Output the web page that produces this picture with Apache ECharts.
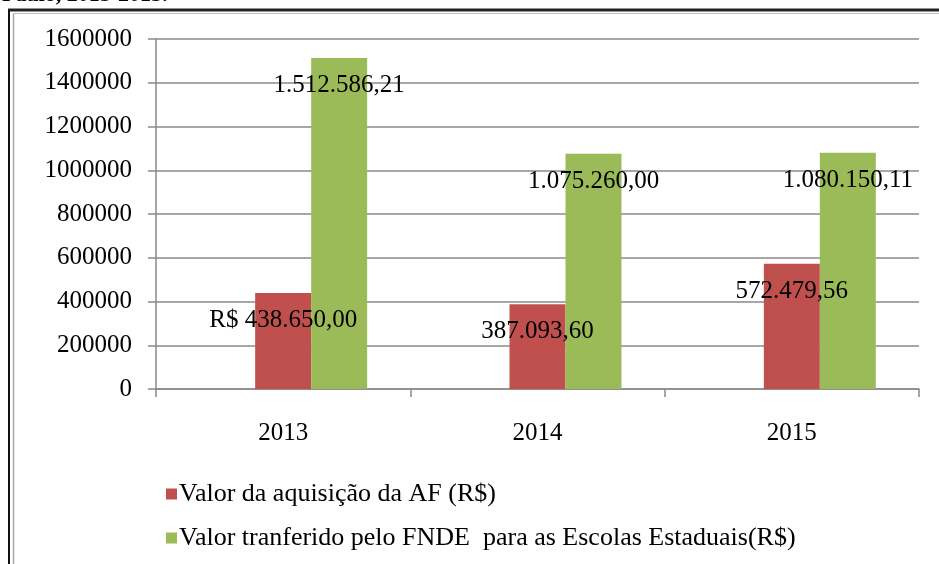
<!DOCTYPE html>
<html>
<head>
<meta charset="utf-8">
<script src="https://cdn.jsdelivr.net/npm/echarts@6/dist/echarts.min.js"></script>
<style>
  html, body { margin: 0; padding: 0; background: #fff; }
  #chart { width: 939px; height: 564px; }
</style>
</head>
<body>
<div id="chart"></div>
<script>
// categorias e valores
const anos = ['2013', '2014', '2015'];
const valorAquisicao = [438650.00, 387093.60, 572479.56];
const valorFnde = [1512586.21, 1075260.00, 1080150.11];
const rotulosAquisicao = ['R$ 438.650,00', '387.093,60', '572.479,56'];
const rotulosFnde = ['1.512.586,21', '1.075.260,00', '1.080.150,11'];
// série vazia que o Excel reserva antes das outras duas
const serieVazia = [null, null, null];

const fonte = 'Liberation Serif';
const cinza = '#8a8a8a';

const chart = echarts.init(document.getElementById('chart'));

const rotulo = (textos) => ({
  show: true,
  position: 'insideTop',
  distance: 15,
  color: '#000',
  fontFamily: fonte,
  fontSize: 25,
  formatter: (p) => textos[p.dataIndex],
});

chart.setOption({
  animation: false,
  textStyle: { fontFamily: fonte },
  grid: { left: 156, right: 20, top: 39, bottom: 175 },
  graphic: [
    { type: 'text', left: 2, top: -16, style: { text: 'Paulo, 2013-2015.', font: 'bold 22px "Liberation Serif"', fill: '#000' } },
    { type: 'line', shape: { x1: 8, y1: 10, x2: 939, y2: 10 }, style: { stroke: '#222', lineWidth: 3 } },
    { type: 'line', shape: { x1: 9, y1: 10, x2: 9, y2: 564 }, style: { stroke: '#111', lineWidth: 2 } },
    { type: 'line', shape: { x1: 13.5, y1: 13.5, x2: 13.5, y2: 564 }, style: { stroke: '#aaa', lineWidth: 1.5 } },
    { type: 'line', shape: { x1: 13.5, y1: 13.5, x2: 939, y2: 13.5 }, style: { stroke: '#bbb', lineWidth: 1 } },
  ],
  legend: {
    orient: 'vertical',
    left: 161,
    top: 476,
    itemWidth: 11,
    itemHeight: 11,
    itemGap: 18,
    icon: 'rect',
    data: ['Valor da aquisição da AF (R$)', 'Valor tranferido pelo FNDE  para as Escolas Estaduais(R$)'],
    textStyle: { fontFamily: fonte, fontSize: 26, color: '#000', padding: [0, 0, 0, -3] },
  },
  xAxis: {
    type: 'category',
    data: anos,
    axisLine: { lineStyle: { color: cinza, width: 1.5 } },
    axisTick: { show: true, length: 8, lineStyle: { color: cinza, width: 1.5 } },
    axisLabel: { color: '#000', fontFamily: fonte, fontSize: 25, margin: 32 },
  },
  yAxis: {
    type: 'value',
    min: 0,
    max: 1600000,
    interval: 200000,
    axisLine: { show: true, lineStyle: { color: cinza, width: 1.5 } },
    axisTick: { show: true, length: 8, lineStyle: { color: cinza, width: 1.5 } },
    axisLabel: { color: '#000', fontFamily: fonte, fontSize: 25, margin: 24, formatter: (v) => String(v) },
    splitLine: { lineStyle: { color: cinza, width: 1.5 } },
  },
  series: [
    { name: 'vazia', type: 'bar', data: serieVazia, barWidth: 56, barGap: '0%' },
    {
      name: 'Valor da aquisição da AF (R$)',
      type: 'bar',
      data: valorAquisicao,
      barWidth: 56,
      barGap: '0%',
      itemStyle: { color: '#C0504D' },
      label: rotulo(rotulosAquisicao),
    },
    {
      name: 'Valor tranferido pelo FNDE  para as Escolas Estaduais(R$)',
      type: 'bar',
      data: valorFnde,
      barWidth: 56,
      barGap: '0%',
      itemStyle: { color: '#9BBB59' },
      label: rotulo(rotulosFnde),
    },
  ],
});
</script>
</body>
</html>
